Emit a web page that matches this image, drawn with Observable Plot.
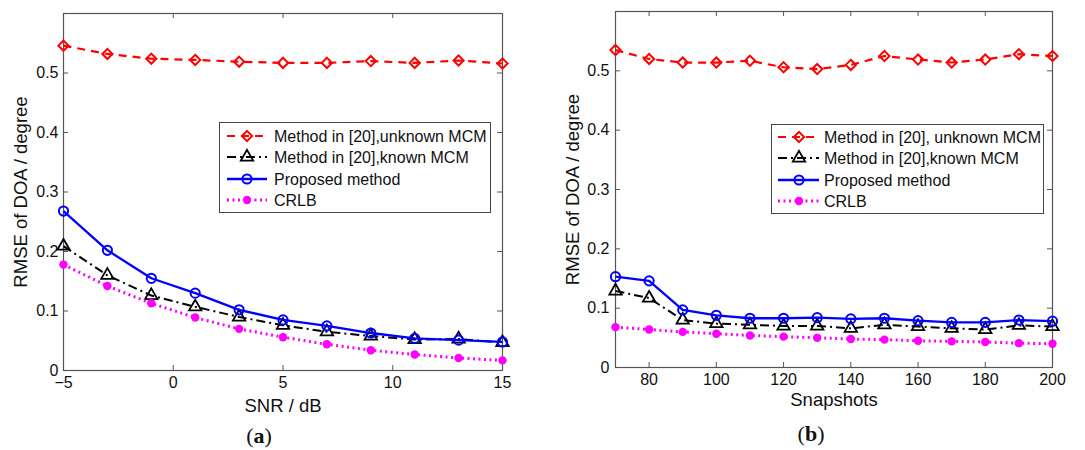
<!DOCTYPE html>
<html>
<head>
<meta charset="utf-8">
<script src="https://cdn.jsdelivr.net/npm/d3@7"></script>
<script src="https://cdn.jsdelivr.net/npm/@observablehq/plot@0.6"></script>
<style>
  body { margin: 0; background: #fff; font-family: "Liberation Sans", Arial, sans-serif; }
  #wrap { position: relative; width: 1085px; height: 450px; overflow: hidden; background: #fff; }
  .panel { position: absolute; top: 0; }
  .panel g[aria-label$="tick label"] text { font-size: 16px !important; }
  .cap { position: absolute; font-family: "Liberation Serif", "DejaVu Serif", serif; font-size: 22px; line-height: 22px; color: #111; transform: translateX(-50%); white-space: nowrap; }
</style>
</head>
<body>
<div id="wrap"></div>
<script>
// ---- data ----
const snrDb = [-5, -3, -1, 1, 3, 5, 7, 9, 11, 13, 15];
const snrUnknownMCM = [0.546, 0.532, 0.524, 0.522, 0.519, 0.517, 0.517, 0.520, 0.517, 0.521, 0.516];
const snrKnownMCM   = [0.209, 0.160, 0.126, 0.107, 0.090, 0.076, 0.065, 0.058, 0.052, 0.053, 0.047];
const snrProposed   = [0.268, 0.202, 0.155, 0.130, 0.102, 0.085, 0.075, 0.063, 0.054, 0.051, 0.048];
const snrCRLB       = [0.178, 0.142, 0.113, 0.089, 0.070, 0.056, 0.044, 0.034, 0.027, 0.021, 0.017];

const snapshots = [70, 80, 90, 100, 110, 120, 130, 140, 150, 160, 170, 180, 190, 200];
const snapUnknownMCM = [0.535, 0.520, 0.514, 0.514, 0.517, 0.506, 0.503, 0.510, 0.525, 0.519, 0.514, 0.519, 0.528, 0.525];
const snapKnownMCM   = [0.129, 0.117, 0.080, 0.074, 0.072, 0.070, 0.070, 0.066, 0.072, 0.069, 0.066, 0.064, 0.071, 0.069];
const snapProposed   = [0.153, 0.146, 0.097, 0.088, 0.083, 0.083, 0.084, 0.082, 0.083, 0.079, 0.076, 0.076, 0.080, 0.078];
const snapCRLB       = [0.068, 0.064, 0.060, 0.057, 0.054, 0.052, 0.050, 0.048, 0.047, 0.045, 0.044, 0.043, 0.041, 0.040];

const snrTicks = [-5, 0, 5, 10, 15];
const snapTicks = [80, 100, 120, 140, 160, 180, 200];
const rmseTicks = [0, 0.1, 0.2, 0.3, 0.4, 0.5];

const legendLabelsA = ["Method in [20],unknown MCM", "Method in [20],known MCM", "Proposed method", "CRLB"];
const legendLabelsB = ["Method in [20], unknown MCM", "Method in [20],known MCM", "Proposed method", "CRLB"];
const yAxisLabel = "RMSE of DOA / degree";

// ---- styles ----
const FONT = '"Liberation Sans", Arial, sans-serif';
const AXIS = "#555";
const styles = [
  {key: "u", color: "#ff0000", width: 2.2, dash: "8,6", sym: "diamond2", r: 4.6, fill: "none", sw: 2},
  {key: "k", color: "#000000", width: 2.0, dash: "9,4,2,4", sym: "triangle", r: 4.6, fill: "none", sw: 1.8},
  {key: "p", color: "#0000ff", width: 2.3, dash: null, sym: "circle", r: 4.6, fill: "none", sw: 2},
  {key: "c", color: "#ff00ff", width: 3.0, dash: "2,3.5", sym: "circle", r: 4.2, fill: "#ff00ff", sw: 0}
];
const d3sym = {diamond2: d3.symbolDiamond2 || d3.symbolDiamond, triangle: d3.symbolTriangle, circle: d3.symbolCircle};

function panel(o) {
  const fh = o.height - o.mt - o.mb;
  const fw = o.width - o.ml - o.mr;
  const rows = o.x.map((x, i) => ({x, u: o.unknown[i], k: o.known[i], p: o.proposed[i], c: o.crlb[i]}));
  const seriesMarks = [];
  for (const s of styles) {
    seriesMarks.push(Plot.line(rows, {x: "x", y: s.key, stroke: s.color, strokeWidth: s.width, strokeDasharray: s.dash, strokeLinecap: "butt"}));
    seriesMarks.push(Plot.dot(rows, {x: "x", y: s.key, symbol: s.sym, r: s.r, stroke: s.sw ? s.color : "none", strokeWidth: s.sw, fill: s.fill}));
  }
  return Plot.plot({
    width: o.width, height: o.height,
    marginLeft: o.ml, marginRight: o.mr, marginTop: o.mt, marginBottom: o.mb,
    style: {fontFamily: FONT, fontSize: "16px", color: "#111", background: "transparent", overflow: "visible"},
    x: {domain: o.xDomain},
    y: {domain: [0, 0.6]},
    marks: [
      Plot.ruleX(o.xTicks, {x: d => d, insetTop: fh - 5, stroke: AXIS}),
      Plot.ruleX(o.xTicks, {x: d => d, insetBottom: fh - 5, stroke: AXIS}),
      Plot.ruleY(rmseTicks, {y: d => d, insetRight: fw - 5, stroke: AXIS}),
      Plot.ruleY(rmseTicks, {y: d => d, insetLeft: fw - 5, stroke: AXIS}),
      Plot.axisX({ticks: o.xTicks, tickSize: 0, tickPadding: 6, label: null, fill: "#111", fontSize: 16}),
      Plot.axisY({ticks: rmseTicks, tickSize: 0, tickPadding: o.yPad, label: null, fill: "#111", fontSize: 16, tickFormat: d => d === 0 ? "0" : d.toFixed(1)}),
      Plot.frame({stroke: AXIS, strokeWidth: 1.2}),
      ...seriesMarks,
      Plot.text([o.xLabel], {text: d => d, frameAnchor: "bottom", lineAnchor: "middle", textAnchor: "middle", dy: o.xLabelDy, fontSize: 18.5, fill: "#111"}),
      Plot.text([yAxisLabel], {text: d => d, frameAnchor: "left", lineAnchor: "middle", textAnchor: "middle", rotate: -90, dx: o.yLabelDx, fontSize: 18.5, fill: "#111"})
    ]
  });
}

function legend(parent, o) {
  const svg = d3.select(parent).append("svg")
    .attr("width", o.w).attr("height", o.h)
    .style("position", "absolute").style("left", o.left + "px").style("top", o.top + "px");
  svg.append("rect").attr("x", 0.5).attr("y", 0.5).attr("width", o.w - 1).attr("height", o.h - 1)
    .attr("fill", "#fff").attr("stroke", "#444").attr("stroke-width", 1);
  o.labels.forEach((lab, i) => {
    const s = styles[i];
    const y = o.rows[i];
    svg.append("line").attr("x1", o.s0).attr("x2", o.s1).attr("y1", y).attr("y2", y)
      .attr("stroke", s.color).attr("stroke-width", s.width).attr("stroke-dasharray", s.dash);
    svg.append("path").attr("d", d3.symbol(d3sym[s.sym], Math.PI * s.r * s.r)())
      .attr("transform", `translate(${o.sx},${y})`)
      .attr("fill", s.fill === "none" ? "none" : s.fill)
      .attr("stroke", s.sw ? s.color : "none").attr("stroke-width", s.sw);
    svg.append("text").attr("x", o.tx).attr("y", y).attr("dy", "0.36em")
      .attr("font-family", FONT).attr("font-size", 16).attr("fill", "#111").text(lab);
  });
}

const wrap = document.getElementById("wrap");

const a = panel({
  width: 545, height: 420, ml: 63, mr: 43, mt: 13, mb: 50,
  x: snrDb, unknown: snrUnknownMCM, known: snrKnownMCM, proposed: snrProposed, crlb: snrCRLB,
  xDomain: [-5, 15], xTicks: snrTicks, yPad: 5, xLabel: "SNR / dB", xLabelDy: 36, yLabelDx: -42.5
});
a.classList.add("panel"); a.style.left = "0px";
wrap.appendChild(a);

const b = panel({
  width: 540, height: 420, ml: 70, mr: 33, mt: 11, mb: 53,
  x: snapshots, unknown: snapUnknownMCM, known: snapKnownMCM, proposed: snapProposed, crlb: snapCRLB,
  xDomain: [70, 200], xTicks: snapTicks, yPad: 6, xLabel: "Snapshots", xLabelDy: 33, yLabelDx: -42
});
b.classList.add("panel"); b.style.left = "545px";
wrap.appendChild(b);

legend(wrap, {left: 219, top: 122, w: 272, h: 91, rows: [14, 35, 57, 78], s0: 8, s1: 48, sx: 28, tx: 55, labels: legendLabelsA});
legend(wrap, {left: 771, top: 124, w: 273, h: 90, rows: [13, 34, 56, 77], s0: 7, s1: 48, sx: 28, tx: 53, labels: legendLabelsB});

const capA = document.createElement("div");
capA.className = "cap"; capA.style.left = "259px"; capA.style.top = "425px";
capA.innerHTML = "(<b>a</b>)";
wrap.appendChild(capA);
const capB = document.createElement("div");
capB.className = "cap"; capB.style.left = "811px"; capB.style.top = "423px";
capB.innerHTML = "(<b>b</b>)";
wrap.appendChild(capB);
</script>
</body>
</html>
